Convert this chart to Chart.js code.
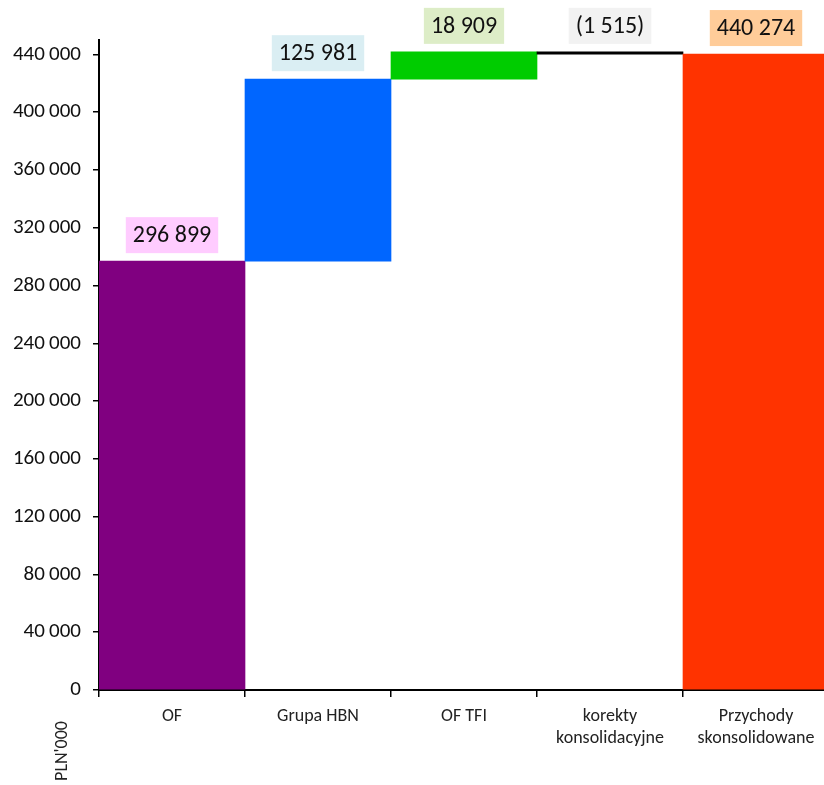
<!DOCTYPE html>
<html lang="pl">
<head>
<meta charset="utf-8">
<title>Przychody skonsolidowane</title>
<script src="https://cdn.jsdelivr.net/npm/chart.js@4/dist/chart.umd.min.js"></script>
<style>
  html, body { margin: 0; padding: 0; background: #fff; overflow: hidden; }
  #wrap { width: 829px; height: 785px; position: relative; }
</style>
</head>
<body>
<div id="wrap"><canvas id="przychodyChart"></canvas></div>
<script>
// Kategorie na osi X (wieloliniowe etykiety jako tablice)
const kategorie = [['OF'], ['Grupa HBN'], ['OF TFI'], ['korekty', 'konsolidacyjne'], ['Przychody', 'skonsolidowane']];
// Zmiany w tys. PLN; ostatnia pozycja to suma
const zmiany = [296899, 125981, 18909, -1515, 440274];
const czySuma = [false, false, false, false, true];
// Kolory słupków i tła etykiet
const kolorySlupkow = ['#800080', '#0066FF', '#00CC00', '#000000', '#FF3300'];
const koloryEtykiet = ['#FFCCFF', '#DAEEF3', '#DDEDC7', '#F2F2F2', '#FFCC99'];
// Podziałka osi Y
const podzialkaY = [0, 40000, 80000, 120000, 160000, 200000, 240000, 280000, 320000, 360000, 400000, 440000];

const czcionka = "Carlito, Calibri, Lato, 'Liberation Sans', sans-serif";

// Słupki pływające liczone narastająco (wykres kaskadowy)
let suma = 0;
const przedzialy = zmiany.map((v, i) => {
    if (czySuma[i]) return [0, v];
    const start = suma;
    suma += v;
    return [start, suma];
});

// Format liczby z odstępem tysięcy
function formatuj(v, sep) {
    const s = Math.abs(v).toString().replace(/\B(?=(\d{3})+(?!\d))/g, sep);
    return v < 0 ? '(' + s + ')' : s;
}

// Etykiety wartości w kolorowych ramkach nad słupkami
const etykietyPlugin = {
    id: 'etykiety',
    afterDatasetsDraw(chart) {
        const ctx = chart.ctx;
        const meta = chart.getDatasetMeta(0);
        ctx.save();
        ctx.font = '24px ' + czcionka;
        ctx.textAlign = 'center';
        ctx.textBaseline = 'middle';
        meta.data.forEach((bar, i) => {
            const tekst = formatuj(zmiany[i], ' ');
            const szer = ctx.measureText(tekst).width + 14;
            const wys = 36;
            const gora = Math.min(bar.y, bar.base);
            const dol = gora - 8;
            ctx.fillStyle = koloryEtykiet[i];
            ctx.fillRect(bar.x - szer / 2, dol - wys, szer, wys);
            ctx.fillStyle = '#111';
            ctx.fillText(tekst, bar.x, dol - wys / 2 + 1);
        });
        // Jednostka pod osią Y
        ctx.translate(62, 751);
        ctx.rotate(-Math.PI / 2);
        ctx.font = '18px ' + czcionka;
        ctx.fillStyle = '#222';
        ctx.fillText("PLN'000", 0, 0);
        ctx.restore();
    }
};

const ctx = document.getElementById('przychodyChart').getContext('2d');
const przychodyChart = new Chart(ctx, {
    type: 'bar',
    data: {
        labels: kategorie,
        datasets: [{
            data: przedzialy,
            backgroundColor: kolorySlupkow,
            borderWidth: 0,
            barPercentage: 1,
            categoryPercentage: 1
        }]
    },
    options: {
        responsive: true,
        maintainAspectRatio: false,
        animation: false,
        layout: { padding: { top: 40, right: 0, left: 0, bottom: 0 } },
        plugins: {
            legend: { display: false },
            tooltip: { enabled: false }
        },
        scales: {
            x: {
                grid: {
                    offset: true,
                    drawOnChartArea: false,
                    drawTicks: true,
                    tickLength: 7,
                    color: '#000',
                    lineWidth: 1.5
                },
                border: { color: '#000', width: 2 },
                ticks: {
                    color: '#222',
                    padding: 9,
                    maxRotation: 0,
                    font: { family: czcionka, size: 18, lineHeight: 1.22 }
                },
                afterFit(scale) { scale.height = 95; }
            },
            y: {
                min: 0,
                max: 450000,
                grid: {
                    drawOnChartArea: false,
                    drawTicks: true,
                    tickLength: 6,
                    color: '#000',
                    lineWidth: 1.5
                },
                border: { color: '#000', width: 2 },
                ticks: {
                    color: '#111',
                    padding: 12,
                    font: { family: czcionka, size: 21 },
                    callback: (v) => formatuj(v, '\u2009')
                },
                afterBuildTicks(scale) {
                    scale.ticks = podzialkaY.map(v => ({ value: v }));
                },
                afterFit(scale) { scale.width = 99; }
            }
        }
    },
    plugins: [etykietyPlugin]
});
</script>
</body>
</html>
